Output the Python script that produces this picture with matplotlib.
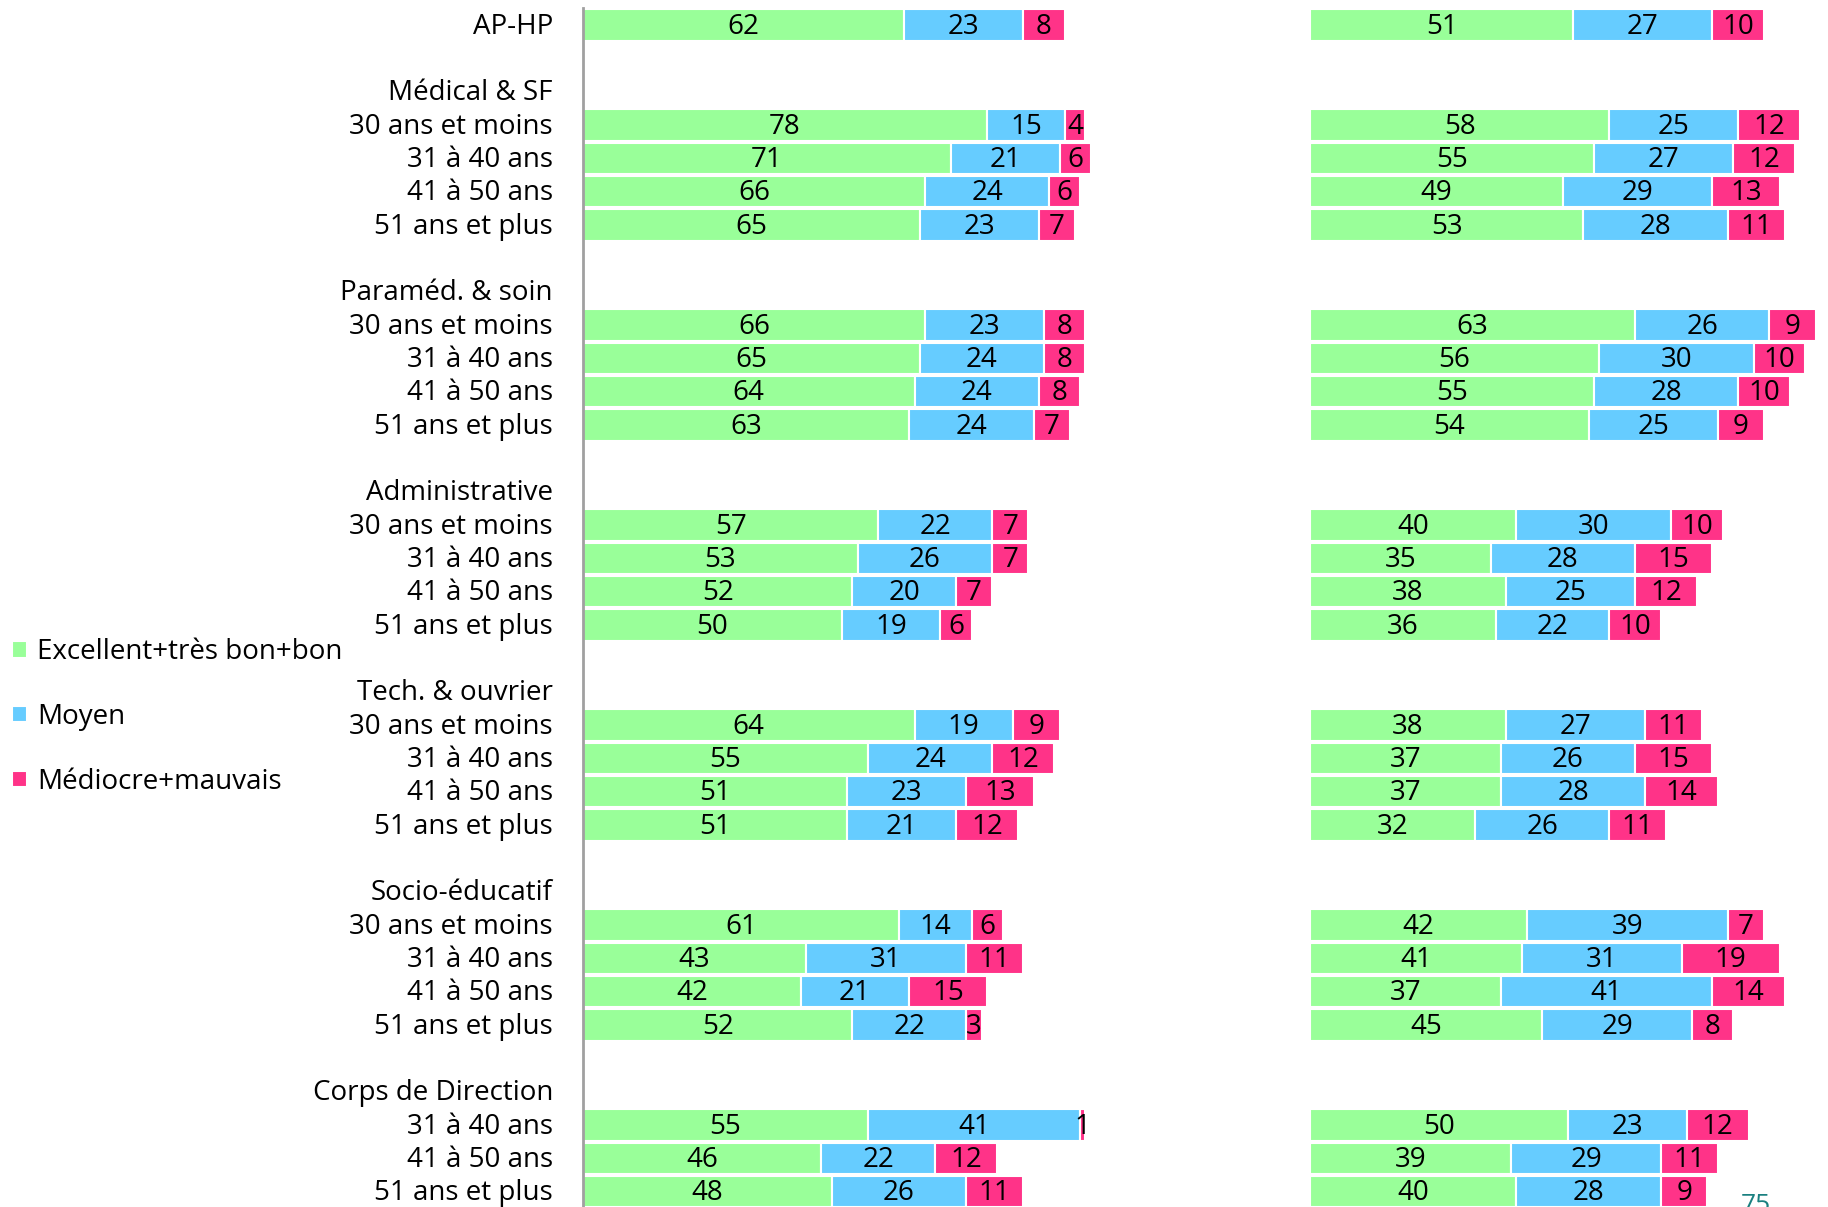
import numpy as np
import matplotlib.pyplot as plt

plt.rcParams['font.family'] = ['Open Sans', 'DejaVu Sans']

ages = ['30 ans et moins', '31 à 40 ans', '41 à 50 ans', '51 ans et plus']
groups = ['Médical & SF', 'Paraméd. & soin', 'Administrative',
          'Tech. & ouvrier', 'Socio-éducatif', 'Corps de Direction']
group_ages = [ages, ages, ages, ages, ages, ages[1:]]

series = ['Excellent+très bon+bon', 'Moyen', 'Médiocre+mauvais']
colors = ['#99ff99', '#66ccff', '#ff3388']

# left panel: AP-HP first, then each group's age bands
left_bon = [62, 78, 71, 66, 65, 66, 65, 64, 63, 57, 53, 52, 50,
            64, 55, 51, 51, 61, 43, 42, 52, 55, 46, 48]
left_moyen = [23, 15, 21, 24, 23, 23, 24, 24, 24, 22, 26, 20, 19,
              19, 24, 23, 21, 14, 31, 21, 22, 41, 22, 26]
left_mauvais = [8, 4, 6, 6, 7, 8, 8, 8, 7, 7, 7, 7, 6,
                9, 12, 13, 12, 6, 11, 15, 3, 1, 12, 11]

# right panel
right_bon = [51, 58, 55, 49, 53, 63, 56, 55, 54, 40, 35, 38, 36,
             38, 37, 37, 32, 42, 41, 37, 45, 50, 39, 40]
right_moyen = [27, 25, 27, 29, 28, 26, 30, 28, 25, 30, 28, 25, 22,
               27, 26, 28, 26, 39, 31, 41, 29, 23, 29, 28]
right_mauvais = [10, 12, 12, 13, 11, 9, 10, 10, 9, 10, 15, 12, 10,
                 11, 15, 14, 11, 7, 19, 14, 8, 12, 11, 9]

# row layout: AP-HP, blank, then header + ages + blank per group
label_rows = [(0, 'AP-HP')]
bar_rows = [0]
r = 2
for g, ag in zip(groups, group_ages):
    label_rows.append((r, g))
    r += 1
    for a in ag:
        label_rows.append((r, a))
        bar_rows.append(r)
        r += 1
    r += 1
bar_rows = np.array(bar_rows)

W, H = 1828, 1207
fig = plt.figure(figsize=(W / 100, H / 100), dpi=100)

row0, step = 25.0, 33.33
ylim = ((H - row0) / step, -row0 / step)

axL = fig.add_axes([583 / W, 0, 518 / W, 1])
axR = fig.add_axes([1310 / W, 0, 516 / W, 1])

fs = 20
for ax, data in [(axL, [left_bon, left_moyen, left_mauvais]),
                 (axR, [right_bon, right_moyen, right_mauvais])]:
    left = np.zeros(len(bar_rows))
    for vals, c, name in zip(data, colors, series):
        vals = np.array(vals)
        ax.barh(bar_rows, vals, left=left, height=0.94, color=c,
                edgecolor='white', linewidth=1.5, label=name)
        for y, l, v in zip(bar_rows, left, vals):
            ax.text(l + v / 2, y + 0.05, str(v), ha='center', va='center',
                    fontsize=fs, color='black')
        left += vals
    ax.set_xlim(0, 100)
    ax.set_ylim(*ylim)
    ax.set_xticks([])
    ax.set_yticks([])
    for s in ax.spines.values():
        s.set_visible(False)

axL.spines['left'].set_visible(True)
axL.spines['left'].set_color('#a0a0a0')
axL.spines['left'].set_linewidth(2)
axL.spines['left'].set_bounds(ylim[0], -0.5)

for y, lab in label_rows:
    axL.text(-30 / 5.18, y + 0.05, lab, ha='right', va='center',
             fontsize=fs, color='black')

h, l = axL.get_legend_handles_labels()
fig.legend(h, l, loc='upper left', bbox_to_anchor=(12 / W, 1 - 638 / H),
           frameon=False, fontsize=fs, handlelength=0.55, handleheight=0.55,
           handletextpad=0.36, labelspacing=1.33, borderaxespad=0,
           borderpad=0)

fig.text(1741 / W, 1 - 1193 / H, '75', color='#1a8080', fontsize=19,
         ha='left', va='top')

fig.savefig('out.png', dpi=100)
